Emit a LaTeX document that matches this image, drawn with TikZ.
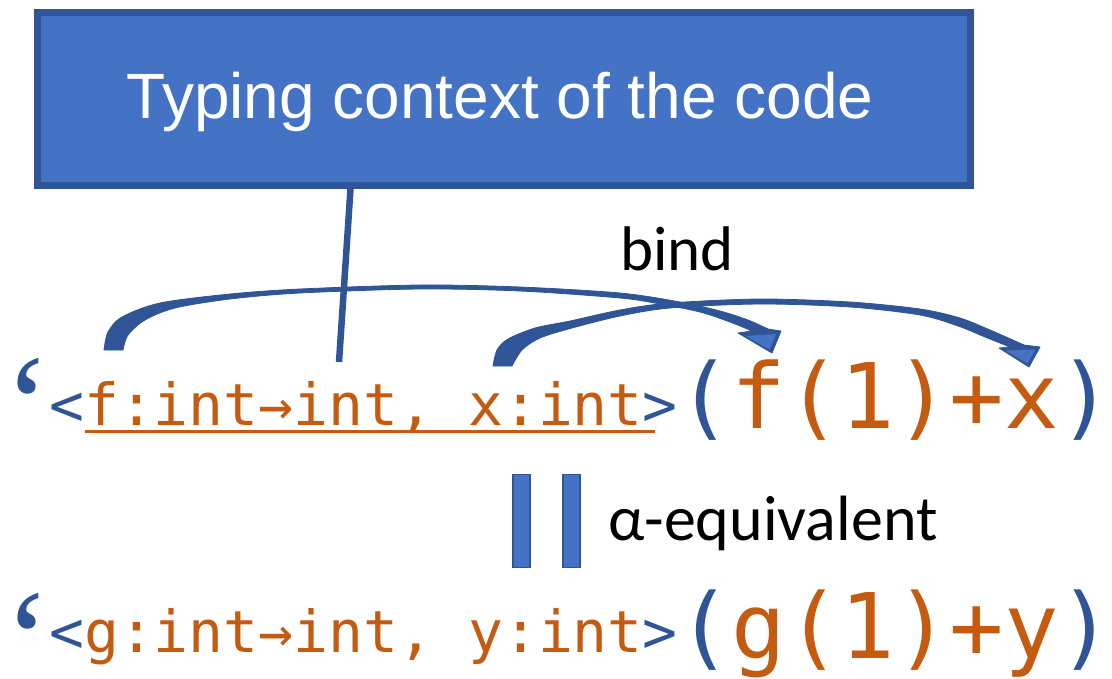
\documentclass[tikz,border=0pt]{standalone}
\usepackage{fontspec}
\setmainfont{Carlito}
\newfontfamily\boxfont{Liberation Sans}
\newfontfamily\codefont{DejaVu Sans Mono}
\newfontfamily\quotefont{Liberation Serif}
\definecolor{dblue}{HTML}{2F5597}
\definecolor{mblue}{HTML}{4472C4}
\definecolor{orng}{HTML}{C55A11}
\newcommand{\qmark}{\raisebox{-60.6pt}[34pt][0pt]{‘}}
\tikzset{
  ctxbox/.style={draw=dblue, fill=mblue, line width=7pt, inner sep=0pt, minimum width=933pt, minimum height=173.5pt},
  barbox/.style={draw=dblue, fill=mblue, line width=1.5pt, inner sep=0pt, minimum width=17pt, minimum height=93pt},
  smallcode/.style={anchor=base west, inner sep=0pt, font=\codefont\fontsize{58}{60}\selectfont},
  bigcode/.style={anchor=base west, inner sep=0pt, font=\codefont\fontsize{90.5}{92}\selectfont},
  quotemark/.style={anchor=base west, inner sep=0pt, text=dblue, font=\quotefont\fontsize{140}{140}\selectfont},
  label/.style={anchor=base west, inner sep=0pt, text=black, font=\fontsize{63}{70}\selectfont},
  arrowbody/.style={fill=dblue, draw=dblue, line width=0.8pt, line join=round},
  arrowhead/.style={fill=mblue}
}
\begin{document}
\begin{tikzpicture}[x=1pt,y=-1pt]
\useasboundingbox (0,0) rectangle (1112,678);
% box
\node[ctxbox, anchor=north west] (ctx) at (33.5,8.5) {};
\node[anchor=base, inner sep=0pt, text=white, font=\boxfont\fontsize{64}{70}\selectfont] (ctxtext) at (500,118) {Typing context of the code};
% arrow 2
\path[arrowbody] plot[smooth] coordinates {(493,366) (497,350) (508,339) (535,328) (570,321) (620,310) (670,303) (760,299) (850,302) (920,309) (960,318) (990,330) (1024,345)}
  -- (1040,347) -- (1029,367) -- (999,348) -- (1010,347)
  -- plot[smooth] coordinates {(1010,347) (985,337) (958,326) (920,315) (850,307) (760,304) (670,308) (620,316) (572,328) (540,338) (522,350) (512,366)} -- cycle;
\fill[arrowhead] (1005.5,350.5) -- (1027.5,363.5) -- (1035.5,349.5) -- cycle;
% arrow 1
\path[arrowbody] plot[smooth] coordinates {(104,350) (108,332) (122,317) (160,303) (230,294) (300,289) (420,285) (520,287) (620,293) (680,302) (720,311) (748,320) (768,329)}
  -- (781,331) -- (772,353) -- (738,333) -- (752,331)
  -- plot[smooth] coordinates {(752,331) (730,322) (700,312) (660,304) (620,298) (520,291) (420,289) (300,293) (230,299) (175,308) (145,320) (128,335) (123,350)} -- cycle;
\fill[arrowhead] (745.5,336) -- (769.5,349.5) -- (776,334) -- cycle;
% connector from box
\coordinate (ctxend) at (339,362);
\draw[dblue, line width=6.5pt] ([xshift=-153pt]ctx.south) -- (ctxend);
% labels
\node[label] (bind) at (620,270) {bind};
% row 1
\node[quotemark] (q1) at (4,391) {\qmark};
\node[smallcode] (c1) at (49,425) {\textcolor{dblue}{<}\textcolor{orng}{f:int→int, x:int}\textcolor{dblue}{>}};
\coordinate (ul1) at (85,431);
\coordinate (ul2) at (655,431);
\draw[orng, line width=3pt] (ul1) -- (ul2);
\node[bigcode] (e1) at (677,428) {\textcolor{dblue}{(}\textcolor{orng}{f(1)+x}\textcolor{dblue}{)}};
% equivalence
\node[barbox] (bar1) at (521.5,521) {};
\node[barbox] (bar2) at (571.5,521) {};
\node[label, font=\fontsize{64}{70}\selectfont] (alpha) at (608,540) {α-equivalent};
% row 2
\node[quotemark] (q2) at (4,626) {\qmark};
\node[smallcode] (c2) at (49,652) {\textcolor{dblue}{<}\textcolor{orng}{g:int→int, y:int}\textcolor{dblue}{>}};
\node[bigcode] (e2) at (677,658) {\textcolor{dblue}{(}\textcolor{orng}{g(1)+y}\textcolor{dblue}{)}};
\end{tikzpicture}
\end{document}
